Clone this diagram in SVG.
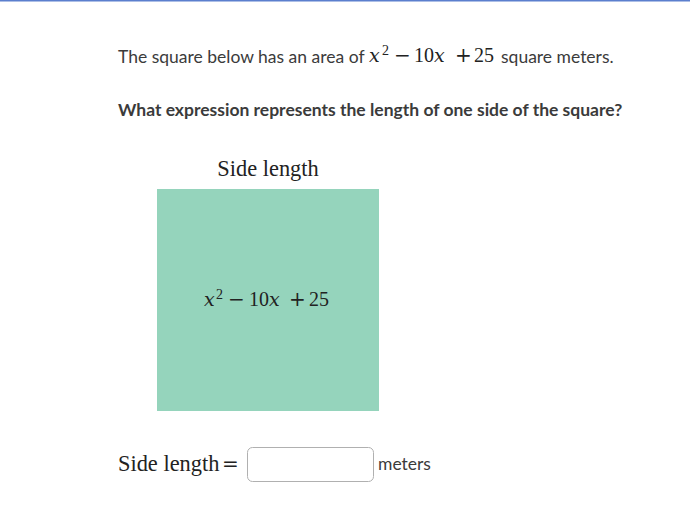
<svg xmlns="http://www.w3.org/2000/svg" width="690" height="509" viewBox="0 0 690 509">
<style>
.sans{font-family:Lato,"Liberation Sans",sans-serif;fill:#3b3b3b;font-size:17.5px}
.bold{font-weight:bold}
.serif{font-family:"Liberation Serif","DejaVu Serif",serif;fill:#222;font-size:22.4px}
.m{font-family:"Liberation Serif",serif;fill:#222;font-size:20px}
.op{font-family:"DejaVu Serif",serif;font-size:20px}
.i{font-family:"DejaVu Serif",serif;font-style:italic;font-size:19px}
.sup{font-size:14px}
</style>
<rect x="0" y="0" width="690" height="509" fill="#ffffff"/>
<rect x="0" y="0" width="690" height="1.5" fill="#5b7fce"/>
<g id="prompt">
<text x="118" y="63" class="sans">The square below has an area of</text>
<text y="62" class="m"><tspan x="369" class="i">x</tspan><tspan x="382" y="55" class="sup">2</tspan><tspan x="394" y="62" class="op">−</tspan><tspan x="414">10</tspan><tspan x="434" class="i">x</tspan><tspan x="455" class="op">+</tspan><tspan x="474">25</tspan></text>
<text x="501" y="63" class="sans">square meters.</text>
</g>
<g id="question">
<text x="118" y="116" class="sans bold">What expression represents the length of one side of the square?</text>
</g>
<g id="square">
<text x="268" y="176" class="serif" text-anchor="middle">Side length</text>
<rect x="157" y="189" width="222" height="222" fill="#95d4bc"/>
<text y="306" class="m"><tspan x="204" class="i">x</tspan><tspan x="216" y="299" class="sup">2</tspan><tspan x="228" y="306" class="op">−</tspan><tspan x="249">10</tspan><tspan x="269" class="i">x</tspan><tspan x="289" class="op">+</tspan><tspan x="309">25</tspan></text>
</g>
<g id="answer">
<text x="118" y="471" class="serif">Side length</text>
<text x="222" y="471" class="serif op">=</text>
<rect x="247.5" y="447.5" width="126" height="34" rx="5" fill="#fff" stroke="#b0b0b0"/>
<text x="378" y="470" class="sans">meters</text>
</g>
</svg>
